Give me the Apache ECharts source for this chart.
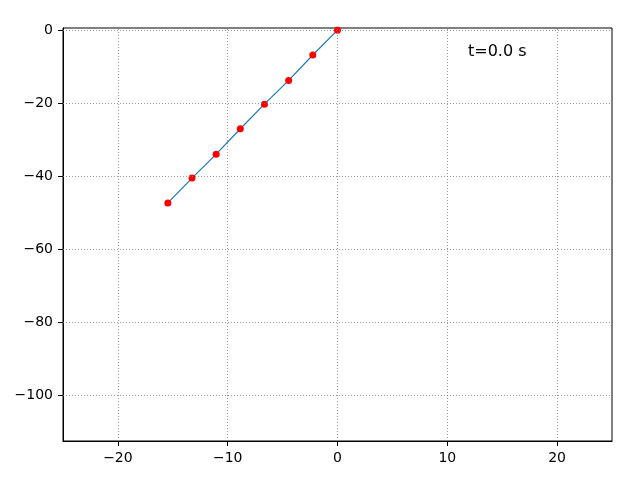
<!DOCTYPE html>
<html>
<head>
<meta charset="utf-8">
<script src="https://cdn.jsdelivr.net/npm/echarts@6/dist/echarts.min.js"></script>
<style>html,body{margin:0;padding:0;background:#fff;}#c{width:640px;height:480px;}</style>
</head>
<body>
<div id="c"></div>
<script>
const xValues = [0, -2.25, -4.45, -6.65, -8.85, -11.05, -13.25, -15.45];
const yValues = [0, -6.8, -13.75, -20.25, -27.0, -33.95, -40.5, -47.3];
const xTicks = [-20, -10, 0, 10, 20];
const yTicks = [-100, -80, -60, -40, -20, 0];
const timeLabel = 't=0.0 s';

const pts = xValues.map((x, i) => [x, yValues[i]]);
const fmt = v => String(v).replace('-', '\u2212');
const gridStyle = { color: '#808080', width: 0.8, type: [1, 2] };
const font = 'DejaVu Sans';

const chart = echarts.init(document.getElementById('c'), null, { renderer: 'canvas' });
chart.setOption({
  animation: false,
  backgroundColor: '#fff',
  grid: { left: 63, right: 28, top: 28, bottom: 39, show: true, borderColor: '#000', borderWidth: 1, containLabel: false },
  xAxis: {
    type: 'value', min: -25, max: 25,
    axisLine: { show: true, onZero: false, lineStyle: { color: '#000', width: 1 } },
    axisTick: { show: true, length: 5, lineStyle: { color: '#000' }, customValues: xTicks },
    axisLabel: { color: '#000', fontSize: 14, fontFamily: font, margin: 10, customValues: xTicks, formatter: fmt },
    splitLine: { show: false }
  },
  yAxis: {
    type: 'value', min: -112.5, max: 0.6,
    axisLine: { show: true, onZero: false, lineStyle: { color: '#000', width: 1 } },
    axisTick: { show: true, length: 5, lineStyle: { color: '#000' }, customValues: yTicks },
    axisLabel: { color: '#000', fontSize: 14, fontFamily: font, margin: 10, customValues: yTicks, formatter: fmt },
    splitLine: { show: false }
  },
  graphic: [{
    type: 'text', left: 468, top: 44,
    style: { text: timeLabel, fontSize: 16, fontFamily: font, fill: '#000' }
  }],
  series: [
    {
      type: 'line', data: [], z: 1, silent: true,
      markLine: {
        silent: true, symbol: 'none', label: { show: false }, animation: false,
        lineStyle: gridStyle, emphasis: { disabled: true },
        data: xTicks.map(v => ({ xAxis: v })).concat(yTicks.map(v => ({ yAxis: v })))
      }
    },
    {
      type: 'line', data: pts, showSymbol: false, z: 2,
      lineStyle: { color: '#1f77b4', width: 1.2 }
    },
    {
      type: 'scatter', data: pts, symbol: 'circle', symbolSize: 7, z: 3,
      itemStyle: { color: '#ff0000', opacity: 1 }
    }
  ]
});
</script>
</body>
</html>
